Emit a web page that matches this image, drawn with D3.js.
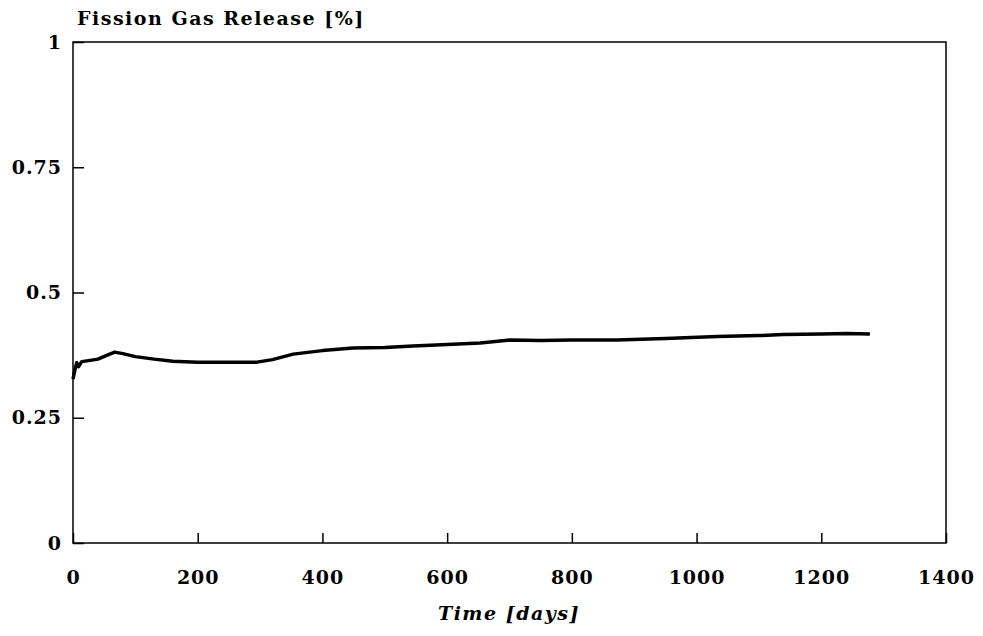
<!DOCTYPE html>
<html lang="en">
<head>
  <meta charset="UTF-8">
  <title>Fission Gas Release</title>
  <script src="https://cdn.jsdelivr.net/npm/d3@7/dist/d3.min.js"></script>
  <style>
    body { margin: 0; background: #fff; }
    text { font-family: "DejaVu Serif", serif; font-weight: bold; fill: #000; }
    .tick text { font-size: 19px; letter-spacing: 1px; }
    .title { font-size: 19px; letter-spacing: 1.5px; }
    .axis-label { font-size: 19px; letter-spacing: 1.5px; font-style: italic; }
  </style>
</head>
<body>
  <script>
    const days = [0, 3, 6, 9, 14, 25, 40, 55, 67, 80, 100, 130, 160, 200, 250, 295, 320, 353, 400,
                  449, 500, 545, 600, 653, 701, 750, 800, 872, 950, 1033, 1100, 1139, 1200, 1240, 1278];
    const release = [0.327, 0.345, 0.36, 0.352, 0.362, 0.364, 0.367, 0.375, 0.381, 0.378, 0.372,
                     0.367, 0.363, 0.361, 0.361, 0.361, 0.366, 0.377, 0.384, 0.389, 0.39, 0.393,
                     0.396, 0.399, 0.405, 0.404, 0.405, 0.405, 0.408, 0.412, 0.414, 0.416, 0.417,
                     0.418, 0.417];
    const xTicks = [0, 200, 400, 600, 800, 1000, 1200, 1400];
    const yTicks = [0, 0.25, 0.5, 0.75, 1];

    const W = 983, H = 636;
    const margin = {top: 42, right: 37, bottom: 93, left: 73};
    const width = W - margin.left - margin.right,
          height = H - margin.top - margin.bottom;

    const svg = d3.select("body").append("svg")
      .attr("width", W).attr("height", H);
    const g = svg.append("g")
      .attr("transform", `translate(${margin.left},${margin.top})`);

    const x = d3.scaleLinear().domain([0, 1400]).range([0, width]);
    const y = d3.scaleLinear().domain([0, 1]).range([height, 0]);

    // frame
    g.append("rect")
      .attr("width", width).attr("height", height)
      .attr("fill", "none").attr("stroke", "#000").attr("stroke-width", 1.5);

    const xAxis = g.append("g")
      .attr("transform", `translate(0,${height})`)
      .call(d3.axisBottom(x).tickValues(xTicks).tickSize(-10).tickPadding(41)
        .tickFormat(d3.format("d")));
    const yAxis = g.append("g")
      .call(d3.axisLeft(y).tickValues(yTicks).tickSize(-11).tickPadding(11)
        .tickFormat(d => String(d)));
    [xAxis, yAxis].forEach(a => {
      a.select(".domain").remove();
      a.selectAll(".tick line").attr("stroke", "#000").attr("stroke-width", 1.5);
      a.selectAll(".tick text").attr("font-family", null).attr("font-size", null);
    });
    xAxis.selectAll(".tick text").attr("dy", "0");

    const line = d3.line().x((d, i) => x(days[i])).y(d => y(d));
    g.append("path")
      .datum(release)
      .attr("fill", "none")
      .attr("stroke", "#000")
      .attr("stroke-width", 3.5)
      .attr("stroke-linejoin", "round")
      .attr("d", line);

    svg.append("text")
      .attr("class", "title")
      .attr("x", 77).attr("y", 25)
      .text("Fission Gas Release [%]");

    svg.append("text")
      .attr("class", "axis-label")
      .attr("x", 509).attr("y", 620)
      .attr("text-anchor", "middle")
      .text("Time [days]");
  </script>
</body>
</html>
